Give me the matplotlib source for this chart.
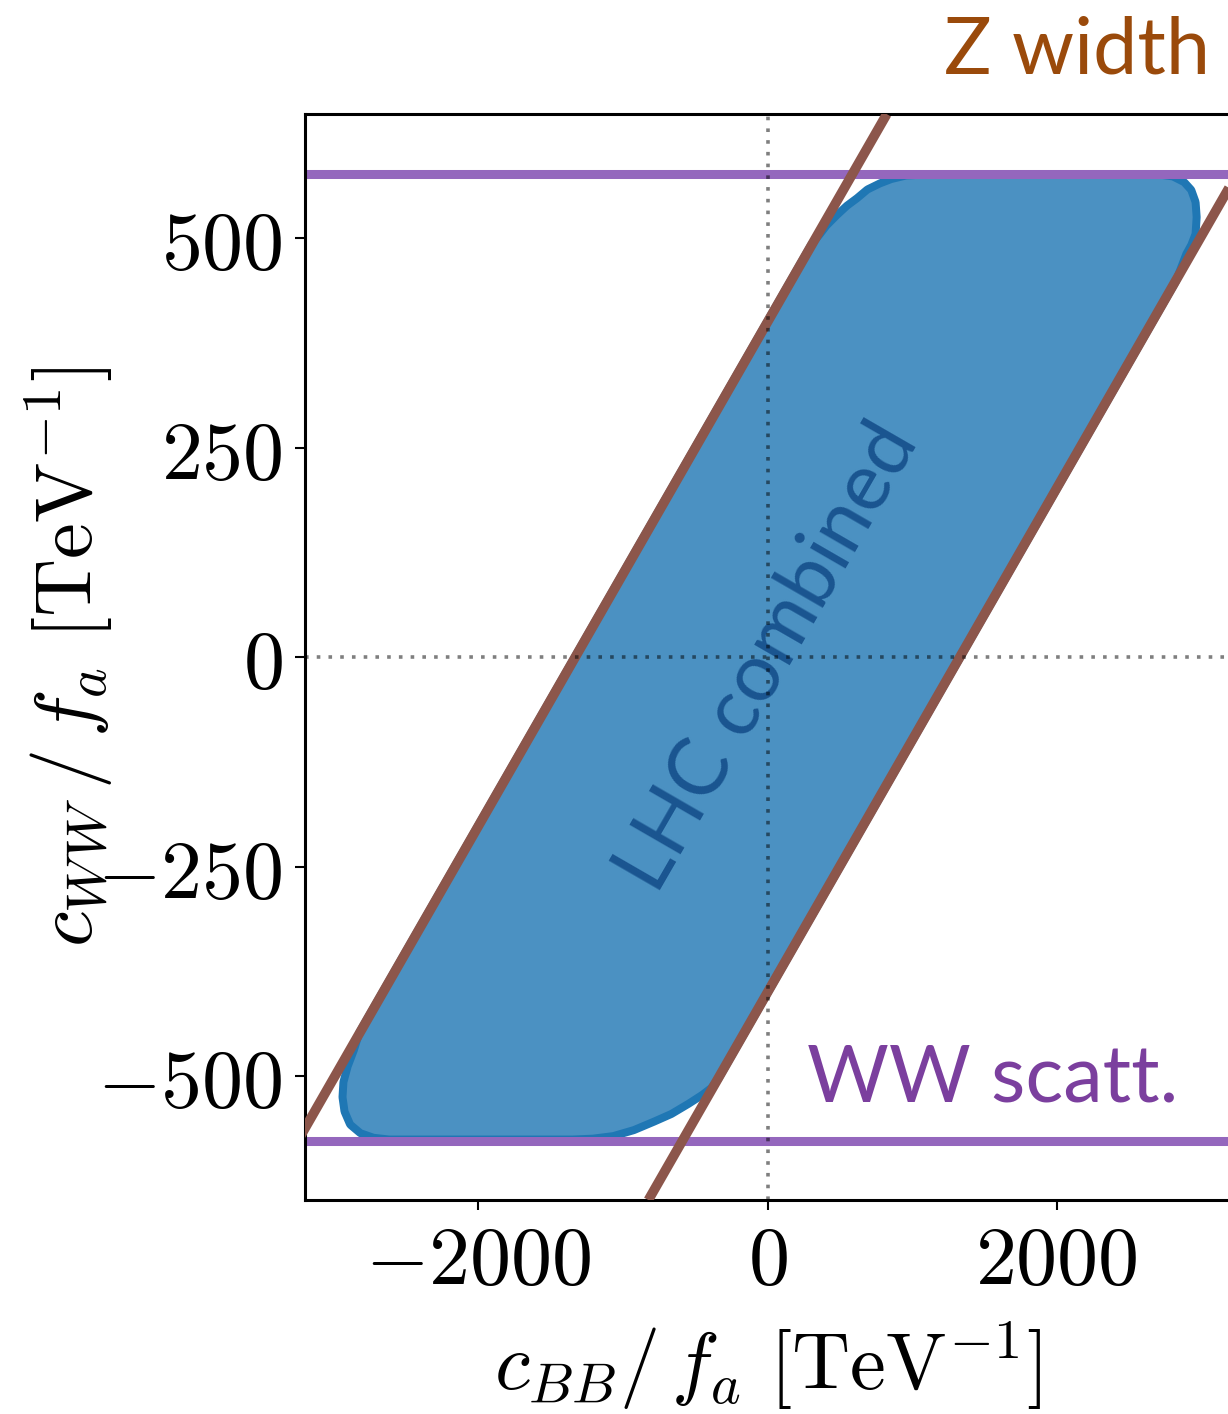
import matplotlib
matplotlib.use("Agg")
import matplotlib.pyplot as plt
import numpy as np
from matplotlib.ticker import FixedLocator, FuncFormatter

plt.rcParams["mathtext.fontset"] = "cm"
plt.rcParams["axes.unicode_minus"] = True

# Z-width constraint: c_WW = tan^2(theta_W) * c_BB +/- intercept
zwidth_slope = 0.3007
zwidth_intercepts = [400.0, -400.0]

# WW scattering bounds on c_WW
ww_scatt_bounds = [577.0, -577.0]

# LHC combined allowed region (boundary, clockwise)
lhc_cbb = [1073, 2713, 2796, 2865, 2907, 2934, 2941, 2934, 2907, 2872, 2799,
           -361, -410, -471, -561, -678, -796, -934, -1073, -1211, -1350,
           -2616, -2720, -2803, -2865, -2900, -2913, -2907, -2879, -2837, -2799,
           327, 380, 429, 498, 567, 637, 706, 789, 865, 962]
lhc_cww = [571, 571, 569, 563, 555, 542, 525, 506, 494, 483, 450,
           -500, -511, -519, -529, -541, -550, -560, -567, -570, -571,
           -571, -569, -564, -555, -541, -525, -508, -490, -471, -450,
           490, 501, 512, 524, 535, 544, 554, 561, 566, 570]

xticks = [-2000, 0, 2000]
yticks = [-500, -250, 0, 250, 500]
xlim = (-3200, 3200)
ylim = (-648, 648)

BLUE = "#1f77b4"
BLUE_FILL = "#4b91c2"
BROWN = "#8c564b"
PURPLE = "#9467bd"

fig = plt.figure(figsize=(12.28, 14.14), dpi=100)
ax = fig.add_axes([0.2484, 0.1513, 0.7533, 0.7680])

# allowed region: dark rim + lighter interior
bx = np.append(lhc_cbb, lhc_cbb[0])
by = np.append(lhc_cww, lhc_cww[0])
ax.plot(bx, by, color=BLUE, lw=11.5, solid_joinstyle="round", zorder=1.5)
ax.fill(lhc_cbb, lhc_cww, color=BLUE_FILL, lw=0, zorder=1.6)

# WW scattering limits
for yb in ww_scatt_bounds:
    ax.axhline(yb, color=PURPLE, lw=6.5, zorder=2)

# Z width band edges, drawn across the c_WW range
cww_span = np.array(ylim, dtype=float)
for b in zwidth_intercepts:
    ax.plot((cww_span - b) / zwidth_slope, cww_span, color=BROWN, lw=7,
            solid_capstyle="butt", zorder=3)

# zero lines
dots = (0, (1, 2.25))
ax.axhline(0, color="k", alpha=0.5, lw=2.6, ls=dots, zorder=5)
ax.axvline(0, color="k", alpha=0.5, lw=2.6, ls=dots, zorder=5)

ax.set_xlim(*xlim)
ax.set_ylim(*ylim)
ax.xaxis.set_major_locator(FixedLocator(xticks))
ax.yaxis.set_major_locator(FixedLocator(yticks))
fmt = FuncFormatter(lambda v, p: r"$%d$" % v)
ax.xaxis.set_major_formatter(fmt)
ax.yaxis.set_major_formatter(fmt)
ax.tick_params(labelsize=59, length=7, width=1.5, pad=9)
for sp in ax.spines.values():
    sp.set_linewidth(2.2)

ax.set_xlabel(r"$c_{BB}/\,f_a\ [\mathrm{TeV}^{-1}]$", fontsize=58)
ax.set_ylabel(r"$c_{WW}\,/\,f_a\ [\mathrm{TeV}^{-1}]$", fontsize=58)
ax.xaxis.set_label_coords(0.5, -0.11)
ax.yaxis.set_label_coords(-0.205, 0.5)

ax.text(0, 0, "LHC combined", rotation=60, ha="center", va="center",
        fontsize=58, family="Lato", color="#1a5590", zorder=4)
fig.text(1178 / 1228, 1 - 1102 / 1414, "WW scatt.", ha="right", va="baseline",
         fontsize=57, family="Lato", color="#7b3f9e")
fig.text(1210 / 1228, 1 - 73 / 1414, "Z width", ha="right", va="baseline",
         fontsize=57, family="Lato", color="#9a4a0b")

fig.savefig("out.png", dpi=100)
